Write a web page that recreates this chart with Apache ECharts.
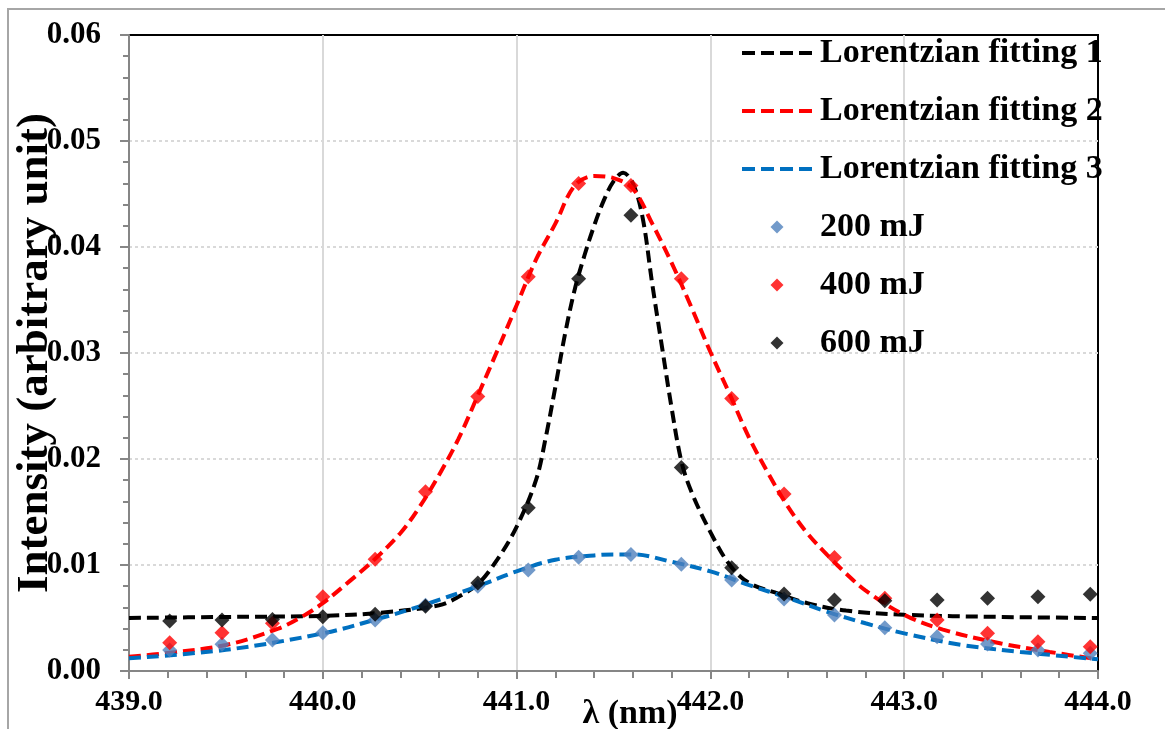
<!DOCTYPE html>
<html>
<head>
<meta charset="utf-8">
<script src="https://cdn.jsdelivr.net/npm/echarts@6/dist/echarts.min.js"></script>
<style>
  html, body { margin: 0; padding: 0; background: #fff; }
  #chart { width: 1165px; height: 729px; }
</style>
</head>
<body>
<div id="chart"></div>
<script>
// measured points (nm)
const lambda = [439.21, 439.48, 439.74, 440.00, 440.27, 440.53, 440.80, 441.06, 441.32, 441.59,
  441.85, 442.11, 442.38, 442.64, 442.90, 443.17, 443.43, 443.69, 443.96];
const mJ200 = [0.00198, 0.00252, 0.00292, 0.00362, 0.0048, 0.0062, 0.0080, 0.00953, 0.01072, 0.0110,
  0.01006, 0.00858, 0.0068, 0.00528, 0.00409, 0.00324, 0.00255, 0.00198, 0.00167];
const mJ400 = [0.00267, 0.00362, 0.0045, 0.0070, 0.01054, 0.0169, 0.0259, 0.0372, 0.0460, 0.0458,
  0.0370, 0.0257, 0.0167, 0.0107, 0.00686, 0.00481, 0.00355, 0.00277, 0.00229];
const mJ600 = [0.00472, 0.00481, 0.00487, 0.00512, 0.00535, 0.0061, 0.0083, 0.0154, 0.0370, 0.0430,
  0.0192, 0.00975, 0.00726, 0.0067, 0.00663, 0.0067, 0.00686, 0.0070, 0.00723];

// fitted curves
const fit1X = [439.0, 439.5, 440.0, 440.3, 440.6, 440.7, 440.8, 440.9, 441.0, 441.1, 441.15, 441.2, 441.25,
  441.3, 441.35, 441.4, 441.45, 441.5, 441.55, 441.6, 441.65, 441.7, 441.75, 441.8, 441.85, 441.9, 442.0,
  442.1, 442.2, 442.35, 442.5, 442.7, 443.0, 443.5, 444.0];
const fit1Y = [0.0050, 0.0051, 0.0052, 0.0055, 0.0062, 0.0070, 0.0082, 0.0105, 0.0136, 0.0180, 0.0220, 0.0268, 0.0318,
  0.0360, 0.0392, 0.0420, 0.0444, 0.0462, 0.0470, 0.0460, 0.0428, 0.0365, 0.0306, 0.0248, 0.0198, 0.0170, 0.0131,
  0.0100, 0.0083, 0.0073, 0.0064, 0.0057, 0.0053, 0.0051, 0.0050];

const fit2X = [439.0, 439.2, 439.5, 439.77, 439.9, 440.0, 440.14, 440.26, 440.4, 440.5, 440.6, 440.7, 440.8, 440.9,
  441.0, 441.1, 441.2, 441.3, 441.4, 441.5, 441.6, 441.7, 441.8, 441.9, 442.0, 442.1, 442.2, 442.3, 442.4,
  442.5, 442.6, 442.7, 442.8, 443.0, 443.2, 443.5, 443.75, 444.0];
const fit2Y = [0.00135, 0.0017, 0.00245, 0.0040, 0.0052, 0.0064, 0.0085, 0.0104, 0.0130, 0.0155, 0.0185, 0.0219, 0.0260, 0.0302,
  0.0345, 0.0388, 0.0422, 0.0458, 0.0467, 0.0465, 0.0455, 0.0422, 0.0385, 0.0344, 0.0301, 0.0261, 0.0220, 0.0186, 0.0155,
  0.0130, 0.0110, 0.0092, 0.0076, 0.0053, 0.0039, 0.0026, 0.0018, 0.0011];

const fit3X = [439.0, 439.5, 440.0, 440.3, 440.5, 440.8, 441.0, 441.2, 441.4, 441.5, 441.6, 441.8, 442.0,
  442.2, 442.4, 442.6, 442.8, 443.0, 443.3, 443.6, 444.0];
const fit3Y = [0.0012, 0.0020, 0.00355, 0.0050, 0.0061, 0.0080, 0.0094, 0.0105, 0.0109, 0.0110, 0.0110, 0.0103, 0.0094,
  0.0081, 0.0069, 0.0056, 0.0045, 0.00355, 0.00245, 0.0018, 0.0011];

const names = ['Lorentzian fitting 1', 'Lorentzian fitting 2', 'Lorentzian fitting 3', '200 mJ', '400 mJ', '600 mJ'];

const serif = '"Liberation Serif", "Times New Roman", serif';
const diamond = 'path://M0,-1L1,0L0,1L-1,0Z';
const pairs = (xs, ys) => xs.map((x, i) => [x, ys[i]]);

function fitLine(name, xs, ys, color) {
  return {
    name: name,
    type: 'line',
    smooth: 0.35,
    symbol: 'none',
    data: pairs(xs, ys),
    lineStyle: { color: color, width: 4, type: [12, 6] },
    itemStyle: { color: color },
    z: 2
  };
}

function points(name, ys, color) {
  return {
    name: name,
    type: 'scatter',
    symbol: 'diamond',
    symbolSize: 15,
    data: pairs(lambda, ys),
    itemStyle: { color: color },
    z: 3
  };
}

const chart = echarts.init(document.getElementById('chart'));

chart.setOption({
  animation: false,
  backgroundColor: '#fff',
  textStyle: { fontFamily: serif },
  graphic: [{
    type: 'rect',
    shape: { x: 8, y: 9, width: 1300, height: 900 },
    style: { fill: 'none', stroke: '#a6a6a6', lineWidth: 2 },
    silent: true
  }],
  grid: {
    left: 129, top: 35, right: 67, bottom: 58,
    outerBoundsMode: 'none',
    containLabel: false,
    show: true, borderColor: '#000', borderWidth: 2
  },
  legend: {
    orient: 'vertical',
    left: 740,
    top: 36,
    padding: 0,
    itemWidth: 70,
    itemHeight: 13,
    itemGap: 24,
    symbolKeepAspect: true,
    lineStyle: { width: 4, type: [13, 6] },
    data: [
      { name: names[0], itemStyle: { opacity: 0 } },
      { name: names[1], itemStyle: { opacity: 0 } },
      { name: names[2], itemStyle: { opacity: 0 } },
      { name: names[3], icon: diamond },
      { name: names[4], icon: diamond },
      { name: names[5], icon: diamond }
    ],
    textStyle: {
      fontFamily: serif, fontWeight: 'bold', fontSize: 34, lineHeight: 34,
      color: '#000', padding: [0, 0, 0, 3]
    }
  },
  xAxis: {
    type: 'value',
    min: 439, max: 444, interval: 1,
    name: 'λ (nm)',
    nameLocation: 'middle',
    nameGap: 26,
    nameMoveOverlap: false,
    nameTextStyle: {
      fontFamily: serif, fontWeight: 'bold', fontSize: 34, color: '#000',
      padding: [0, 0, 0, 33], verticalAlign: 'top'
    },
    axisLine: { lineStyle: { color: '#868686', width: 2 } },
    axisTick: { length: 8, lineStyle: { color: '#868686', width: 2 } },
    minorTick: { show: true, splitNumber: 5, length: 7, lineStyle: { color: '#868686', width: 2 } },
    axisLabel: {
      margin: 16, fontFamily: serif, fontWeight: 'bold', fontSize: 30, color: '#000',
      formatter: v => v.toFixed(1)
    },
    splitLine: { show: true, showMinLine: false, showMaxLine: false, lineStyle: { color: '#d9d9d9', width: 2 } }
  },
  yAxis: {
    type: 'value',
    min: 0, max: 0.06, interval: 0.01,
    name: 'Intensity (arbitrary unit)',
    nameLocation: 'middle',
    nameGap: 71,
    nameMoveOverlap: false,
    nameTextStyle: { fontFamily: serif, fontWeight: 'bold', fontSize: 45, color: '#000' },
    axisLine: { show: true, lineStyle: { color: '#868686', width: 2 } },
    axisTick: { show: true, length: 9, lineStyle: { color: '#868686', width: 2 } },
    minorTick: { show: true, splitNumber: 5, length: 6, lineStyle: { color: '#868686', width: 2 } },
    axisLabel: {
      margin: 28, fontFamily: serif, fontWeight: 'bold', fontSize: 31, color: '#000',
      formatter: v => v.toFixed(2)
    },
    splitLine: { show: true, showMinLine: false, showMaxLine: false, lineStyle: { color: '#d9d9d9', width: 2, type: [3, 3] } }
  },
  series: [
    fitLine(names[0], fit1X, fit1Y, '#000000'),
    fitLine(names[1], fit2X, fit2Y, '#ff0000'),
    fitLine(names[2], fit3X, fit3Y, '#0070c0'),
    points(names[3], mJ200, '#4f81bd'),
    points(names[4], mJ400, '#ff0000'),
    points(names[5], mJ600, '#000000')
  ]
});
</script>
</body>
</html>
